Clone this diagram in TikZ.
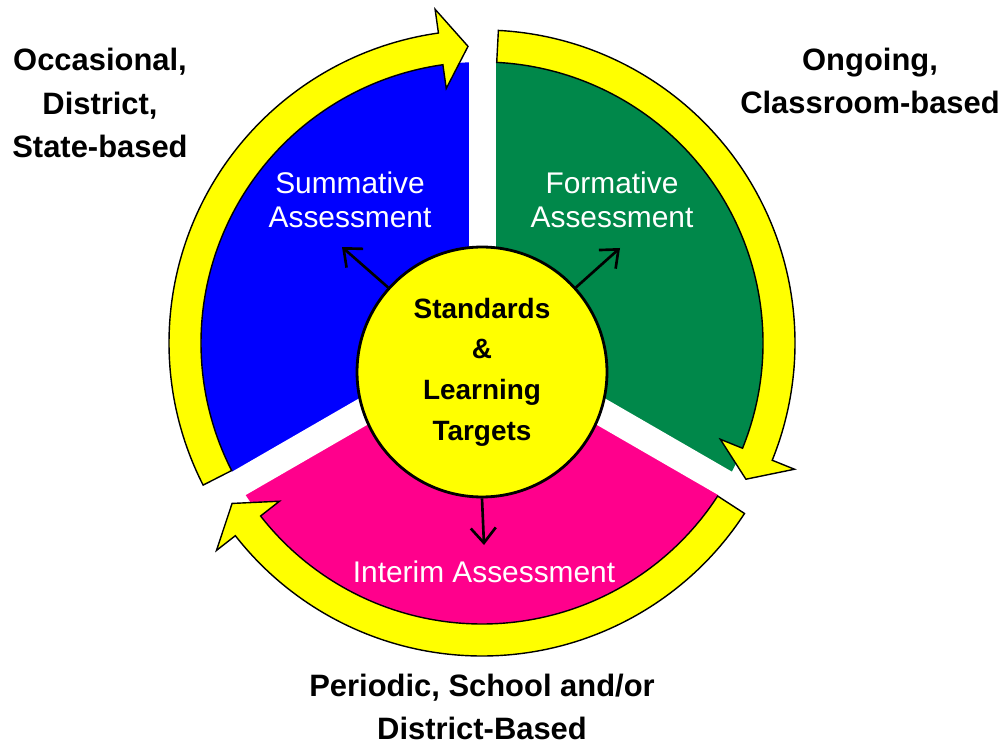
\documentclass[tikz,border=0pt]{standalone}
\usepackage{fontspec}
\setmainfont{Liberation Sans}
\usetikzlibrary{arrows.meta}
\definecolor{sumblue}{RGB}{0,0,255}
\definecolor{formgreen}{RGB}{0,136,74}
\definecolor{intpink}{RGB}{255,0,140}
\definecolor{ringyellow}{RGB}{255,255,0}
\newcommand{\ringarrow}[3]{%
  \filldraw[ring] (#1:313) arc[start angle=#1, end angle=#2, radius=313]
    -- (#2:337) -- (#3:297) -- (#2:257) -- (#2:281)
    arc[start angle=#2, end angle=#1, radius=281] -- cycle;}

\begin{document}
\begin{tikzpicture}[x=0.02cm, y=0.02cm]
      \tikzstyle{ring} = [fill=ringyellow, draw=black, line width=0.8pt]
      \tikzstyle{gap} = [draw=white, line width=0.54cm]
      \tikzstyle{hub} = [circle, minimum size=5cm, inner sep=0pt, fill=ringyellow, draw=black, line width=1.6pt, align=center, font=\fontsize{15.9}{23.2}\selectfont\bfseries]
      \tikzstyle{inlabel} = [text=white, align=center, font=\fontsize{17}{19.3}\selectfont]
      \tikzstyle{outlabel} = [align=center, inner sep=1pt, font=\fontsize{17.6}{24.6}\selectfont\bfseries]
      \tikzstyle{arrow} = [line width=1.5pt, -{Straight Barb[length=0.3cm,width=0.5cm]}]

      \useasboundingbox (0,0) rectangle (1006,747);

      \begin{scope}[shift={(482,404)}]
        \clip (0,0) circle[radius=281];
        \foreach \g/\c in {210/sumblue, 90/formgreen, -30/intpink}
          \fill[\c] (0,0) -- (\g:600) -- ({\g-60}:600) -- ({\g-120}:600) -- cycle;
      \end{scope}

      \begin{scope}[shift={(482,404)}]
        \foreach \g in {210, 90, -30}
          \draw[gap] (0,0) -- (\g:330);
        \foreach \g in {210, 90, -30}{
          \pgfmathsetmacro{\s}{\g-3}
          \pgfmathsetmacro{\b}{\g-112}
          \pgfmathsetmacro{\t}{\g-117.3}
          \ringarrow{\s}{\b}{\t}
        }
      \end{scope}

      \node[hub] (hub) at (482,375) {Standards\\\&\\Learning\\Targets};

      \node[inlabel] (sum) at (350,547) {Summative\\Assessment};
      \node[inlabel] (form) at (612,547) {Formative\\Assessment};
      \node[inlabel] (int) at (484,175) {Interim Assessment};

      \coordinate (sum-tip) at (342,500);
      \coordinate (form-tip) at (620,499);
      \coordinate (int-tip) at (484,202);
      \draw[arrow] (hub.138) -- (sum-tip);
      \draw[arrow] (hub.42) -- (form-tip);
      \draw[arrow] (hub.south) -- (int-tip);

      \node[outlabel] (occ) at (100,644) {Occasional,\\District,\\State-based};
      \node[outlabel] (ong) at (870,666) {Ongoing,\\Classroom-based};
      \node[outlabel] (per) at (482,40) {Periodic, School and/or\\District-Based};
\end{tikzpicture}
\end{document}
